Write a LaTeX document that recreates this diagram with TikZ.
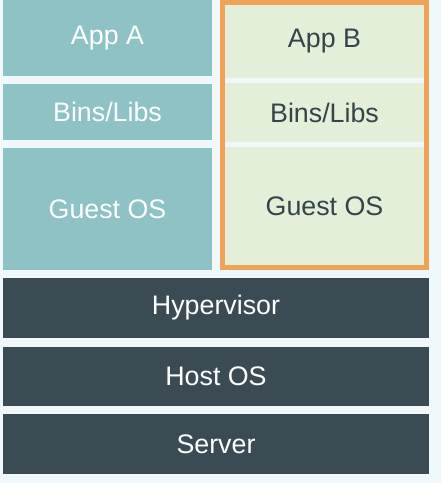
\documentclass[tikz,border=0pt]{standalone}
\usepackage{fontspec}
\setmainfont{Liberation Sans}
\usetikzlibrary{fit,backgrounds}

\definecolor{paper}{HTML}{F0F8FB}
\definecolor{teal}{HTML}{8EC2C4}
\definecolor{slate}{HTML}{3B4B53}
\definecolor{mint}{HTML}{E3EFD8}
\definecolor{frameorange}{HTML}{EEA458}

\begin{document}
\begin{tikzpicture}[x=0.5pt,y=-0.5pt]
\tikzstyle{vmblock} = [rectangle, fill=teal, text=white, inner sep=0pt,
minimum width=104.5pt, font=\fontsize{13.4}{15}\selectfont]
\tikzstyle{ctblock} = [rectangle, fill=mint, text=slate!90!black, inner sep=0pt,
minimum width=99.5pt, font=\fontsize{13.4}{15}\selectfont]
\tikzstyle{layer} = [rectangle, fill=slate, text=white, inner sep=0pt,
minimum width=213pt, font=\fontsize{13.4}{15}\selectfont]
\tikzstyle{frame} = [draw=frameorange, line width=2.5pt, inner sep=1.25pt]

\useasboundingbox[fill=paper] (0,0) rectangle (441,483);

% virtual machine A
\node [vmblock, minimum height=38pt] (appA) at (107.5,38) {App A};
\node [vmblock, minimum height=28pt] (binsA) at (107.5,112) {Bins/Libs};
\node [vmblock, minimum height=61pt] (guestA) at (107.5,209) {Guest OS};

% virtual machine B
\node [ctblock, minimum height=36.5pt] (appB) at (324.5,41.5) {App B};
\node [ctblock, minimum height=29.5pt] (binsB) at (324.5,112.5) {Bins/Libs};
\node [ctblock, minimum height=59pt] (guestB) at (324.5,206) {Guest OS};
\node [frame, fit=(appB)(guestB)] (vmB) {};

% shared layers
\node [layer, minimum height=30pt] (hyper) at (216,308) {Hypervisor};
\node [layer, minimum height=29.5pt] (host) at (216,376.5) {Host OS};
\node [layer, minimum height=30pt] (server) at (216,444) {Server};
\end{tikzpicture}
\end{document}
